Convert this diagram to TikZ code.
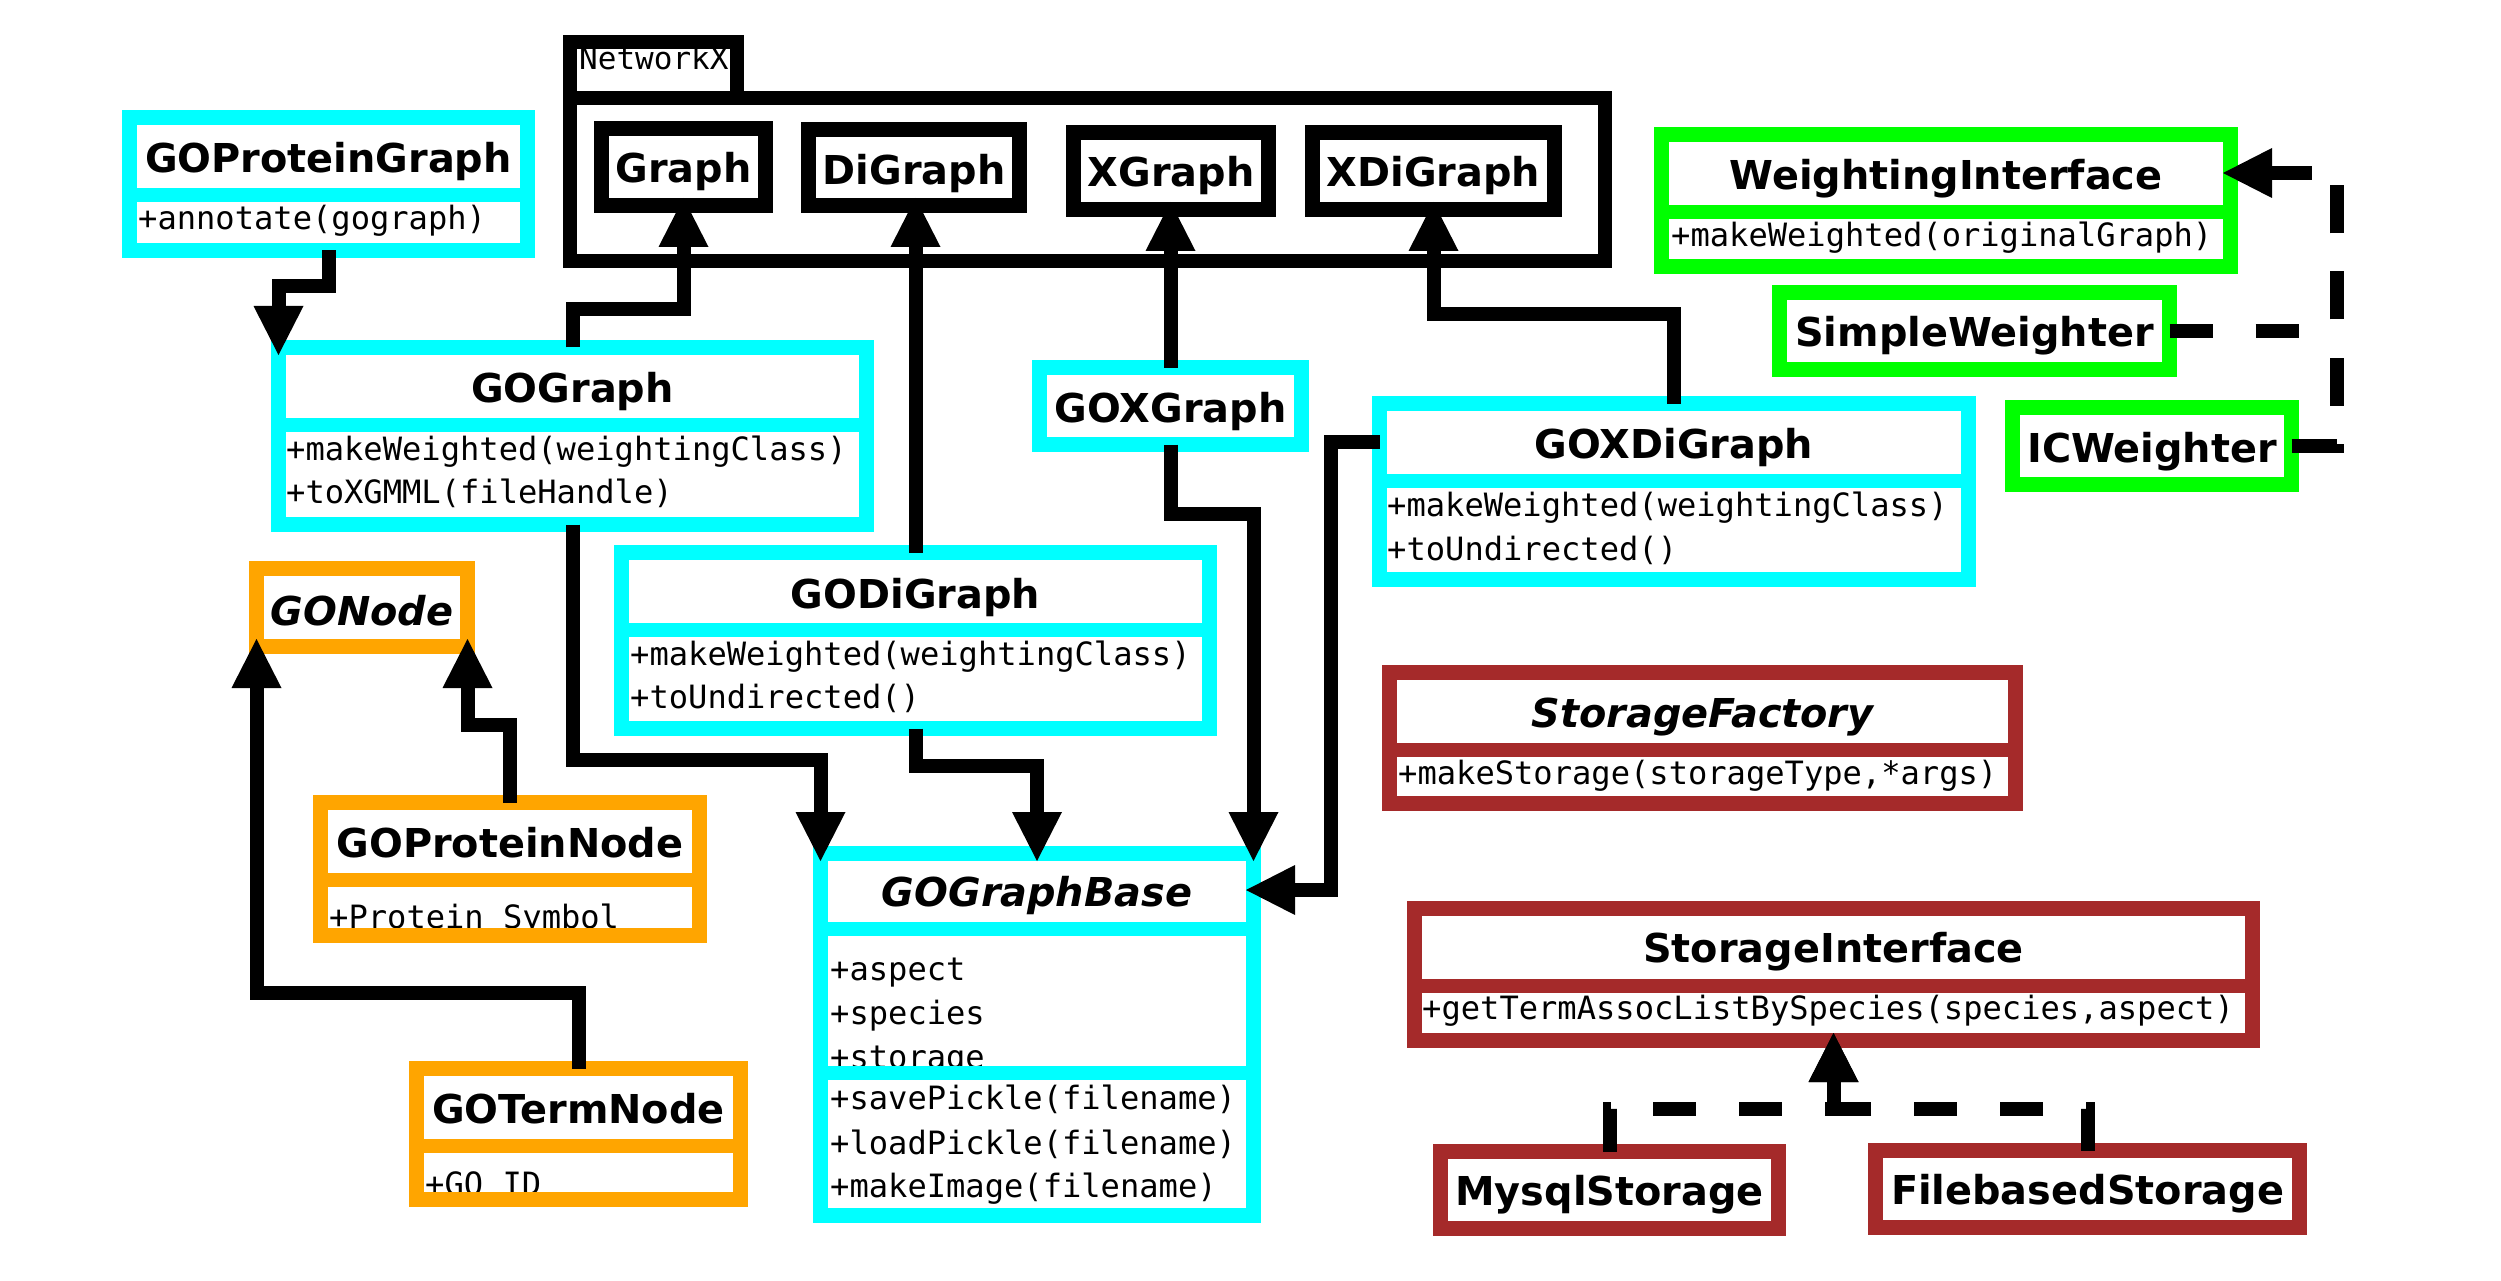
\documentclass[tikz,border=0pt]{standalone}
\usepackage{fontspec}
\setmainfont{DejaVu Sans}
\setmonofont{DejaVu Sans Mono}
\usetikzlibrary{arrows.meta}
\definecolor{umlcyan}{HTML}{00FFFF}
\definecolor{umlorange}{HTML}{FFA500}
\definecolor{umlgreen}{HTML}{00FF00}
\definecolor{umlbrown}{HTML}{A52A2A}
\tikzset{
  boxarea/.style={rectangle, fill=white, inner sep=0pt, outer sep=0pt},
  ttl/.style={anchor=base, inner sep=0pt, font=\fontsize{39.8}{47}\selectfont\bfseries},
  ttli/.style={anchor=base, inner sep=0pt, font=\fontsize{39.8}{47}\selectfont\bfseries\itshape},
  mth/.style={anchor=base west, inner sep=0pt, font=\fontsize{32.1}{38}\selectfont\ttfamily},
  border/.style={line width=15pt, draw=#1},
  divider/.style={line width=14pt, draw=#1},
  inh/.style={line width=14pt, -{Triangle[length=49pt,width=50pt,line width=0pt]}, shorten >=-7.5pt},
  dashA/.style={line width=14pt, dash pattern=on 43pt off 43pt},
  dashB/.style={line width=14pt, dash pattern=on 48pt off 38pt}
}
\begin{document}
\begin{tikzpicture}[x=1pt,y=-1pt]
\useasboundingbox (0,0) rectangle (2501,1281);
\fill[white] (0,0) rectangle (2501,1281);

% ---------- white areas (named nodes) ----------
\node[boxarea, minimum width=166.5pt, minimum height=55.5pt] (nxtab) at (653.25,70.25) {};
\node[boxarea, minimum width=1034.5pt, minimum height=163.5pt] (networkx) at (1087.25,179.75) {};
\node[boxarea, minimum width=164pt, minimum height=77pt] (graph) at (683.5,167) {};
\node[boxarea, minimum width=211pt, minimum height=76pt] (digraph) at (914,167.5) {};
\node[boxarea, minimum width=195pt, minimum height=77pt] (xgraph) at (1171,171) {};
\node[boxarea, minimum width=242pt, minimum height=77pt] (xdigraph) at (1433.5,171) {};

\node[boxarea, minimum width=398pt, minimum height=133pt] (goproteingraph) at (328.5,184) {};
\node[boxarea, minimum width=588pt, minimum height=177pt] (gograph) at (572.5,436) {};
\node[boxarea, minimum width=588pt, minimum height=176pt] (godigraph) at (915.5,640.5) {};
\node[boxarea, minimum width=262pt, minimum height=77pt] (goxgraph) at (1170.5,406) {};
\node[boxarea, minimum width=589pt, minimum height=176pt] (goxdigraph) at (1674,491.5) {};
\node[boxarea, minimum width=433pt, minimum height=362pt] (gographbase) at (1037,1034.5) {};
\node[boxarea, minimum width=211pt, minimum height=78pt] (gonode) at (362,607.5) {};
\node[boxarea, minimum width=379pt, minimum height=133pt] (goproteinnode) at (510,869) {};
\node[boxarea, minimum width=324pt, minimum height=131pt] (gotermnode) at (578.5,1134) {};
\node[boxarea, minimum width=569pt, minimum height=132pt] (weightinginterface) at (1946,200.5) {};
\node[boxarea, minimum width=390pt, minimum height=77pt] (simpleweighter) at (1974.5,331) {};
\node[boxarea, minimum width=279pt, minimum height=77pt] (icweighter) at (2152,446) {};
\node[boxarea, minimum width=626pt, minimum height=131pt] (storagefactory) at (1702.5,738) {};
\node[boxarea, minimum width=838pt, minimum height=132pt] (storageinterface) at (1833.5,974.5) {};
\node[boxarea, minimum width=338pt, minimum height=77pt] (mysqlstorage) at (1609.5,1190) {};
\node[boxarea, minimum width=424pt, minimum height=77pt] (filebasedstorage) at (2087.5,1189) {};

% ---------- texts ----------
\node[mth, font=\fontsize{31}{37}\selectfont\ttfamily] (tnx) at (579,70) {NetworkX};
\node[ttl] (tgraph) at (683.5,183) {Graph};
\node[ttl] (tdigraph) at (914,185) {DiGraph};
\node[ttl] (txgraph) at (1171,187) {XGraph};
\node[ttl] (txdigraph) at (1433.5,187) {XDiGraph};

\node[ttl] (tgpg) at (328.5,173) {GOProteinGraph};
\node[mth] (tgpg1) at (138,230) {+annotate(gograph)};

\node[ttl] (tgg) at (572.5,402) {GOGraph};
\node[mth] (tgg1) at (286,460) {+makeWeighted(weightingClass)};
\node[mth] (tgg2) at (286,503) {+toXGMML(fileHandle)};

\node[ttl] (tgdg) at (915.5,608) {GODiGraph};
\node[mth] (tgdg1) at (630,665) {+makeWeighted(weightingClass)};
\node[mth] (tgdg2) at (630,708) {+toUndirected()};

\node[ttl] (tgxg) at (1170.5,422) {GOXGraph};

\node[ttl] (tgxdg) at (1674,458) {GOXDiGraph};
\node[mth] (tgxdg1) at (1387,516) {+makeWeighted(weightingClass)};
\node[mth] (tgxdg2) at (1387,560) {+toUndirected()};

\node[ttli] (tgb) at (1037,906) {GOGraphBase};
\node[mth] (tgb1) at (830,980) {+aspect};
\node[mth] (tgb2) at (830,1024) {+species};
\node[mth] (tgb3) at (830,1068) {+storage};
\node[mth] (tgb4) at (830,1109) {+savePickle(filename)};
\node[mth] (tgb5) at (830,1154) {+loadPickle(filename)};
\node[mth] (tgb6) at (830,1197) {+makeImage(filename)};

\node[ttli] (tgn) at (362,625) {GONode};
\node[ttl] (tgpn) at (510,857) {GOProteinNode};
\node[mth] (tgpn1) at (329,928) {+Protein Symbol};
\node[ttl] (tgtn) at (578.5,1123) {GOTermNode};
\node[mth] (tgtn1) at (425,1195) {+GO ID};

\node[ttl] (twi) at (1946,190) {WeightingInterface};
\node[mth] (twi1) at (1671,247) {+makeWeighted(originalGraph)};
\node[ttl] (tsw) at (1974.5,347) {SimpleWeighter};
\node[ttl] (ticw) at (2152,462) {ICWeighter};

\node[ttli] (tsf) at (1702.5,727) {StorageFactory};
\node[mth] (tsf1) at (1398,784) {+makeStorage(storageType,*args)};
\node[ttl] (tsi) at (1833.5,962) {StorageInterface};
\node[mth] (tsi1) at (1422,1019) {+getTermAssocListBySpecies(species,aspect)};
\node[ttl] (tms) at (1609.5,1205) {MysqlStorage};
\node[ttl] (tfs) at (2087.5,1204) {FilebasedStorage};

% ---------- borders ----------
\draw[line width=14pt] (nxtab.north west) rectangle (nxtab.south east);
\draw[line width=14pt] (networkx.north west) rectangle (networkx.south east);
\foreach \n in {graph,digraph,xgraph,xdigraph}
  \draw[border=black] (\n.north west) rectangle (\n.south east);
\foreach \n in {goproteingraph,gograph,godigraph,goxgraph,goxdigraph,gographbase}
  \draw[border=umlcyan] (\n.north west) rectangle (\n.south east);
\foreach \n in {gonode,goproteinnode,gotermnode}
  \draw[border=umlorange] (\n.north west) rectangle (\n.south east);
\foreach \n in {weightinginterface,simpleweighter,icweighter}
  \draw[border=umlgreen] (\n.north west) rectangle (\n.south east);
\foreach \n in {storagefactory,storageinterface,mysqlstorage,filebasedstorage}
  \draw[border=umlbrown] (\n.north west) rectangle (\n.south east);

% compartment dividers
\draw[divider=umlcyan] (122,195) -- (535,195);
\draw[divider=umlcyan] (271,425) -- (874,425);
\draw[divider=umlcyan] (614,630) -- (1217,630);
\draw[divider=umlcyan] (1372,481) -- (1976,481);
\draw[divider=umlcyan] (813,929) -- (1261,929);
\draw[divider=umlcyan] (813,1072.5) -- (1261,1072.5);
\draw[divider=umlorange] (313,880) -- (707,880);
\draw[divider=umlorange] (409,1145.5) -- (748,1145.5);
\draw[divider=umlgreen] (1654,212) -- (2238,212);
\draw[divider=umlbrown] (1382,749.5) -- (2023,749.5);
\draw[divider=umlbrown] (1407,985.5) -- (2260,985.5);

% ---------- connectors ----------
\draw[inh] (goproteingraph.south) -- ++(0,35.5) -| (gograph.north west);
\draw[inh] (gograph.north) -- ++(0,-38.5) -| (graph.south);
\draw[inh] (gograph.south) -- ++(0,235.5) -| (gographbase.north west);
\draw[inh] (godigraph.north) -- (godigraph.north |- digraph.south);
\draw[inh] (godigraph.south) -- ++(0,37.5) -| (gographbase.north);
\draw[inh] (goxgraph.north) -- (goxgraph.north |- xgraph.south);
\draw[inh] (goxgraph.south) -- ++(0,69.5) -| (gographbase.north east);
\draw[inh] (goxdigraph.north) -- ++(0,-89.5) -| (xdigraph.south);
\draw[inh] ([yshift=-38.5pt]goxdigraph.north west) -- ++(-48.5,0) |- ([yshift=-36.5pt]gographbase.north east);
\draw[inh] (goproteinnode.north) -- ++(0,-77.5) -| (gonode.south east);
\draw[inh] (gotermnode.north) -- ++(0,-75.5) -| (gonode.south west);

\coordinate (wjoin) at (2337,331);
\draw[dashA] (simpleweighter.east) -- (wjoin);
\draw[inh, dashB] (icweighter.east) -- ++(45.5,0) |- ([yshift=-38.5pt]weightinginterface.north east);

\draw[inh, dashA] (mysqlstorage.north) -- ++(0,-42.5) -| (storageinterface.south);
\draw[inh, dashA] (filebasedstorage.north) -- ++(0,-41.5) -| (storageinterface.south);
\end{tikzpicture}
\end{document}
